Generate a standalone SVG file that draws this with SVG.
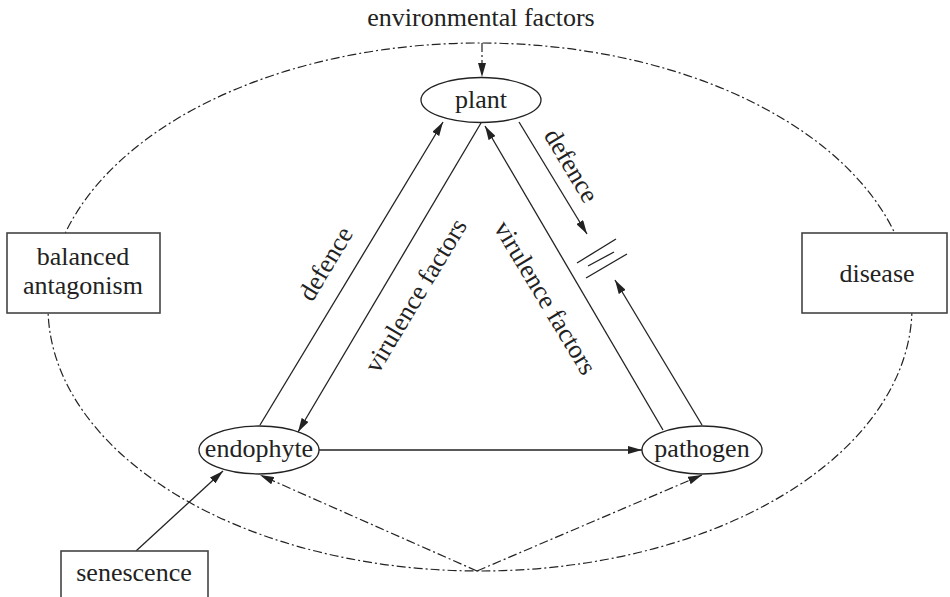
<svg xmlns="http://www.w3.org/2000/svg" width="950" height="597" viewBox="0 0 950 597">
<style>
  text { font-family: "Liberation Serif", "Times New Roman", serif; font-size: 26px; fill: #222; text-anchor: middle; }
  .node { fill: #fff; stroke: #222; stroke-width: 1.3; }
  .box { fill: #fff; stroke: #444; stroke-width: 1.6; }
  .edge { fill: none; stroke: #222; stroke-width: 1.3; }
  .dd { fill: none; stroke: #222; stroke-width: 1.2; stroke-dasharray: 9 3 2 3; }
</style>
<defs>
  <marker id="arr" markerUnits="userSpaceOnUse" markerWidth="14" markerHeight="8" refX="14" refY="4" orient="auto">
    <path d="M0,0 L14,4 L0,8 z" fill="#222"/>
  </marker>
</defs>
<rect width="950" height="597" fill="#fff"/>
<g id="context">
  <ellipse cx="480" cy="307" rx="432" ry="264" class="dd"/>
</g>
<g id="connectors">
  <line x1="482" y1="43" x2="482" y2="77" class="dd" marker-end="url(#arr)"/>
  <line x1="260" y1="425" x2="443" y2="122" class="edge" marker-end="url(#arr)"/>
  <line x1="481" y1="123" x2="298" y2="432" class="edge" marker-end="url(#arr)"/>
  <line x1="663" y1="430" x2="485" y2="126" class="edge" marker-end="url(#arr)"/>
  <line x1="519" y1="122" x2="587" y2="234" class="edge" marker-end="url(#arr)"/>
  <line x1="702" y1="425" x2="615" y2="280" class="edge" marker-end="url(#arr)"/>
  <line x1="577" y1="263" x2="616" y2="239" class="edge"/>
  <line x1="588" y1="266" x2="614" y2="252" class="edge"/>
  <line x1="586" y1="278" x2="627" y2="254" class="edge"/>
  <line x1="319" y1="450" x2="642" y2="450" class="edge" marker-end="url(#arr)"/>
  <line x1="136" y1="551" x2="223" y2="471" class="edge" marker-end="url(#arr)"/>
  <line x1="477" y1="571" x2="260" y2="475" class="dd" marker-end="url(#arr)"/>
  <line x1="477" y1="571" x2="702" y2="475" class="dd" marker-end="url(#arr)"/>
  <text transform="translate(333,268) rotate(-59)">defence</text>
  <text transform="translate(423,300) rotate(-59)">virulence factors</text>
  <text transform="translate(538,302) rotate(59)">virulence factors</text>
  <text transform="translate(564,170) rotate(59)">defence</text>
</g>
<g id="environmental">
  <text x="481" y="26">environmental factors</text>
</g>
<g id="plant">
  <ellipse cx="481" cy="100" rx="60" ry="22.5" class="node"/>
  <text x="481" y="108">plant</text>
</g>
<g id="endophyte">
  <ellipse cx="259" cy="450" rx="60" ry="24" class="node"/>
  <text x="259" y="457">endophyte</text>
</g>
<g id="pathogen">
  <ellipse cx="702" cy="450" rx="60" ry="24" class="node"/>
  <text x="702" y="457">pathogen</text>
</g>
<g id="balanced">
  <rect x="7" y="233" width="153" height="80" class="box"/>
  <text x="83" y="265">balanced</text>
  <text x="83" y="294">antagonism</text>
</g>
<g id="disease">
  <rect x="802" y="233" width="145" height="80" class="box"/>
  <text x="877" y="282">disease</text>
</g>
<g id="senescence">
  <rect x="61" y="551" width="147" height="60" class="box"/>
  <text x="134" y="581">senescence</text>
</g>
</svg>
